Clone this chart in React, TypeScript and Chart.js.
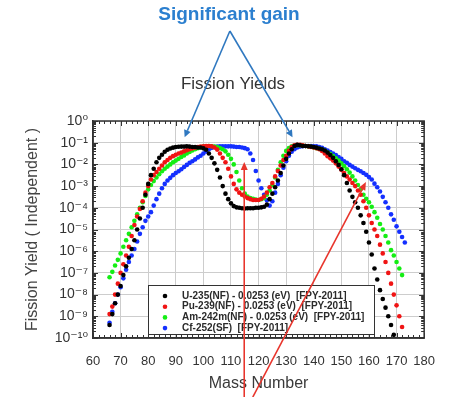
import React, { useEffect, useRef } from "react";
import { Chart, registerables } from "chart.js";

Chart.register(...registerables);

// Mass numbers (A) shared by all series, starting at A = 66
const massNumbers = [
  66, 67, 68, 69, 70, 71, 72, 73, 74, 75, 76, 77, 78, 79, 80, 81, 82, 83, 84, 85,
  86, 87, 88, 89, 90, 91, 92, 93, 94, 95, 96, 97, 98, 99, 100, 101, 102, 103, 104, 105,
  106, 107, 108, 109, 110, 111, 112, 113, 114, 115, 116, 117, 118, 119, 120, 121, 122, 123, 124, 125,
  126, 127, 128, 129, 130, 131, 132, 133, 134, 135, 136, 137, 138, 139, 140, 141, 142, 143, 144, 145,
  146, 147, 148, 149, 150, 151, 152, 153, 154, 155, 156, 157, 158, 159, 160, 161, 162, 163, 164, 165,
  166, 167, 168, 169, 170, 171, 172, 173,
];

// U-235 (A = 66..169)
const u235Yield = [
  4.0e-10, 1.26e-9, 4.0e-9, 1.0e-8, 2.5e-8, 7.9e-8, 2.0e-7, 5.0e-7, 1.26e-6, 3.2e-6,
  1.0e-5, 3.2e-5, 1.0e-4, 4.0e-4, 1.26e-3, 3.2e-3, 6.3e-3, 1.26e-2, 2.0e-2, 2.8e-2,
  3.8e-2, 4.7e-2, 5.4e-2, 5.9e-2, 6.3e-2, 6.5e-2, 6.6e-2, 6.6e-2, 6.8e-2, 6.6e-2,
  6.3e-2, 6.3e-2, 6.0e-2, 6.0e-2, 5.5e-2, 4.7e-2, 3.2e-2, 2.0e-2, 1.12e-2, 5.6e-3,
  2.5e-3, 1.0e-3, 4.5e-4, 2.5e-4, 1.6e-4, 1.2e-4, 1.05e-4, 1.0e-4, 9.5e-5, 9.3e-5,
  9.5e-5, 9.5e-5, 9.5e-5, 1.0e-4, 1.0e-4, 1.05e-4, 1.12e-4, 1.4e-4, 2.5e-4, 4.5e-4,
  8.9e-4, 1.8e-3, 4.0e-3, 8.9e-3, 1.8e-2, 3.2e-2, 5.0e-2, 7.1e-2, 7.9e-2, 7.6e-2,
  7.1e-2, 7.1e-2, 6.9e-2, 6.6e-2, 6.3e-2, 5.9e-2, 5.4e-2, 5.0e-2, 4.4e-2, 3.5e-2,
  2.7e-2, 2.0e-2, 1.4e-2, 9.5e-3, 6.0e-3, 3.2e-3, 1.4e-3, 6.3e-4, 3.2e-4, 1.8e-4,
  1.0e-4, 4.5e-5, 2.0e-5, 7.9e-6, 2.5e-6, 7.1e-7, 1.6e-7, 5.0e-8, 1.6e-8, 6.3e-9,
  2.5e-9, 1.0e-9, 4.0e-10, 1.4e-10,
];

// Pu-239 (A = 66..172)
const pu239Yield = [
  1.26e-9, 2.8e-9, 1.0e-8, 3.2e-8, 1.0e-7, 2.5e-7, 6.3e-7, 1.6e-6, 5.0e-6, 1.6e-5,
  4.0e-5, 8.9e-5, 2.0e-4, 5.0e-4, 1.0e-3, 2.0e-3, 3.2e-3, 4.5e-3, 6.3e-3, 8.9e-3,
  1.26e-2, 1.6e-2, 2.0e-2, 2.4e-2, 2.8e-2, 3.2e-2, 3.5e-2, 4.0e-2, 4.5e-2, 5.0e-2,
  5.5e-2, 5.9e-2, 6.3e-2, 6.6e-2, 6.9e-2, 7.1e-2, 7.1e-2, 6.8e-2, 6.0e-2, 4.8e-2,
  3.2e-2, 2.0e-2, 1.26e-2, 6.3e-3, 2.8e-3, 1.26e-3, 7.1e-4, 5.0e-4, 4.0e-4, 3.3e-4,
  2.8e-4, 2.5e-4, 2.3e-4, 2.3e-4, 2.3e-4, 2.6e-4, 3.3e-4, 5.0e-4, 8.9e-4, 1.4e-3,
  2.8e-3, 5.0e-3, 8.9e-3, 1.6e-2, 2.5e-2, 4.2e-2, 6.3e-2, 7.6e-2, 7.9e-2, 7.9e-2,
  7.6e-2, 7.1e-2, 6.8e-2, 6.3e-2, 6.0e-2, 5.6e-2, 5.0e-2, 4.2e-2, 3.2e-2, 2.4e-2,
  1.9e-2, 1.5e-2, 1.12e-2, 7.9e-3, 5.6e-3, 4.0e-3, 2.8e-3, 2.0e-3, 1.4e-3, 1.0e-3,
  6.3e-4, 4.0e-4, 2.0e-4, 1.0e-4, 4.5e-5, 2.0e-5, 1.0e-5, 5.0e-6, 2.0e-6, 7.9e-7,
  3.2e-7, 1.0e-7, 3.2e-8, 1.0e-8, 3.2e-9, 1.0e-9, 3.2e-10,
];

// Am-242m (A = 66..172)
const am242mYield = [
  6.3e-8, 1.12e-7, 2.2e-7, 4.0e-7, 7.9e-7, 1.6e-6, 3.2e-6, 6.3e-6, 1.26e-5, 2.5e-5,
  5.0e-5, 1.0e-4, 1.8e-4, 3.5e-4, 7.1e-4, 1.12e-3, 1.7e-3, 2.5e-3, 3.5e-3, 4.8e-3,
  6.3e-3, 7.9e-3, 1.0e-2, 1.26e-2, 1.5e-2, 1.8e-2, 2.2e-2, 2.6e-2, 3.2e-2, 3.7e-2,
  4.4e-2, 5.0e-2, 5.6e-2, 6.2e-2, 6.6e-2, 6.9e-2, 7.1e-2, 6.9e-2, 6.6e-2, 6.3e-2,
  5.6e-2, 5.0e-2, 4.0e-2, 2.8e-2, 1.8e-2, 1.0e-2, 4.5e-3, 1.8e-3, 7.9e-4, 4.5e-4,
  3.3e-4, 2.8e-4, 2.6e-4, 2.4e-4, 2.3e-4, 2.5e-4, 2.8e-4, 4.0e-4, 6.3e-4, 1.12e-3,
  2.5e-3, 5.6e-3, 1.26e-2, 2.5e-2, 4.2e-2, 5.6e-2, 6.8e-2, 7.4e-2, 7.6e-2, 7.6e-2,
  7.4e-2, 7.1e-2, 6.8e-2, 6.5e-2, 6.0e-2, 5.6e-2, 5.2e-2, 4.8e-2, 4.2e-2, 3.5e-2,
  3.0e-2, 2.4e-2, 1.9e-2, 1.5e-2, 1.12e-2, 8.3e-3, 6.0e-3, 4.2e-3, 2.8e-3, 1.8e-3,
  1.12e-3, 7.1e-4, 4.0e-4, 2.6e-4, 1.8e-4, 1.12e-4, 6.3e-5, 3.5e-5, 1.8e-5, 1.0e-5,
  5.0e-6, 2.5e-6, 1.12e-6, 6.3e-7, 3.2e-7, 1.6e-7, 7.9e-8,
];

// Cf-252 (A = 66..173)
const cf252Yield = [
  5.0e-10, 1.6e-9, 4.0e-9, 1.0e-8, 2.2e-8, 5.6e-8, 1.4e-7, 3.2e-7, 6.3e-7, 1.26e-6,
  2.8e-6, 6.3e-6, 1.26e-5, 2.5e-5, 4.0e-5, 6.3e-5, 1.26e-4, 2.5e-4, 4.5e-4, 7.9e-4,
  1.26e-3, 1.8e-3, 2.4e-3, 3.2e-3, 4.0e-3, 4.8e-3, 6.0e-3, 7.6e-3, 9.5e-3, 1.17e-2,
  1.4e-2, 1.7e-2, 2.1e-2, 2.5e-2, 3.2e-2, 4.0e-2, 5.0e-2, 5.8e-2, 6.3e-2, 6.6e-2,
  6.8e-2, 6.8e-2, 6.8e-2, 6.8e-2, 6.8e-2, 6.6e-2, 6.3e-2, 6.3e-2, 6.0e-2, 5.6e-2,
  5.0e-2, 3.2e-2, 1.6e-2, 5.0e-3, 1.8e-3, 7.9e-4, 4.0e-4, 2.2e-4, 1.26e-4, 2.0e-4,
  5.0e-4, 1.26e-3, 3.2e-3, 7.1e-3, 1.4e-2, 2.5e-2, 3.8e-2, 5.0e-2, 6.0e-2, 6.6e-2,
  6.9e-2, 7.1e-2, 7.1e-2, 7.1e-2, 6.9e-2, 6.8e-2, 6.3e-2, 5.8e-2, 5.0e-2, 4.4e-2,
  3.7e-2, 3.2e-2, 2.7e-2, 2.2e-2, 1.8e-2, 1.4e-2, 1.17e-2, 9.5e-3, 7.9e-3, 6.6e-3,
  5.6e-3, 4.8e-3, 4.0e-3, 3.3e-3, 2.6e-3, 2.0e-3, 1.3e-3, 8.9e-4, 5.6e-4, 3.2e-4,
  1.8e-4, 1.0e-4, 5.0e-5, 2.8e-5, 1.4e-5, 7.9e-6, 4.5e-6, 2.5e-6,
];

const seriesLabels = [
  "U-235(NF) - 0.0253 (eV)  [FPY-2011]",
  "Pu-239(NF) - 0.0253 (eV)  [FPY-2011]",
  "Am-242m(NF) - 0.0253 (eV)  [FPY-2011]",
  "Cf-252(SF)  [FPY-2011]",
];
const seriesColors = ["#000000", "#f01414", "#14ee14", "#1430ff"];

const xTickValues = [60, 70, 80, 90, 100, 110, 120, 130, 140, 150, 160, 170, 180];
const yTickValues = [1e-10, 1e-9, 1e-8, 1e-7, 1e-6, 1e-5, 1e-4, 1e-3, 1e-2, 1e-1, 1];
const yTickLabels = ["10⁻¹⁰", "10⁻⁹", "10⁻⁸", "10⁻⁷", "10⁻⁶", "10⁻⁵", "10⁻⁴", "10⁻³", "10⁻²", "10⁻¹", "10⁰"];

const chartTitle = "Fission Yields";
const headline = "Significant gain";
const xAxisTitle = "Mass Number";
const yAxisTitle = "Fission Yield ( Independent )";

// Annotation arrows, in data coordinates (A, yield)
const blueArrowApex = { x: 109.6, y: 1.4e4 };
const blueArrowTips = [
  { x: 93.2, y: 0.18 },
  { x: 132.3, y: 0.18 },
];
const redArrows = [
  { from: { x: 114.8, y: 1.9e-13 }, to: { x: 114.8, y: 1.3e-2 } },
  { from: { x: 117.9, y: 1.9e-13 }, to: { x: 158.9, y: 1.55e-3 } },
];

const FONT = "'Liberation Sans', Arial, 'DejaVu Sans', sans-serif";

function drawArrow(ctx: CanvasRenderingContext2D, x1: number, y1: number, x2: number, y2: number, color: string, width: number, headLen: number, headHalf: number) {
  const ang = Math.atan2(y2 - y1, x2 - x1);
  const bx = x2 - Math.cos(ang) * headLen;
  const by = y2 - Math.sin(ang) * headLen;
  ctx.strokeStyle = color;
  ctx.fillStyle = color;
  ctx.lineWidth = width;
  ctx.beginPath();
  ctx.moveTo(x1, y1);
  ctx.lineTo(bx, by);
  ctx.stroke();
  ctx.beginPath();
  ctx.moveTo(x2, y2);
  ctx.lineTo(bx + Math.sin(ang) * headHalf, by - Math.cos(ang) * headHalf);
  ctx.lineTo(bx - Math.sin(ang) * headHalf, by + Math.cos(ang) * headHalf);
  ctx.closePath();
  ctx.fill();
}

const decorPlugin = {
  id: "decor",
  afterDatasetsDraw(chart: any) {
    const { ctx, chartArea: ca, scales } = chart;
    const xs = scales.x;
    const ys = scales.y;
    ctx.save();
    // frame
    ctx.strokeStyle = "#333";
    ctx.lineWidth = 1.5;
    ctx.strokeRect(ca.left, ca.top, ca.right - ca.left, ca.bottom - ca.top);
    // inner ticks
    ctx.lineWidth = 1;
    ctx.beginPath();
    for (let v = 60; v <= 180; v += 2) {
      const px = Math.round(xs.getPixelForValue(v)) + 0.5;
      const len = v % 10 === 0 ? 5 : 3;
      ctx.moveTo(px, ca.bottom);
      ctx.lineTo(px, ca.bottom - len);
      ctx.moveTo(px, ca.top);
      ctx.lineTo(px, ca.top + len);
    }
    for (let d = -10; d <= 0; d++) {
      for (let m = 1; m <= 9; m++) {
        const v = m * Math.pow(10, d);
        if (v > 1.0001) break;
        const py = Math.round(ys.getPixelForValue(v)) + 0.5;
        const len = m === 1 ? 5 : 3;
        ctx.moveTo(ca.left, py);
        ctx.lineTo(ca.left + len, py);
        ctx.moveTo(ca.right, py);
        ctx.lineTo(ca.right - len, py);
      }
    }
    ctx.stroke();

    // legend box inside plot
    const lx = ca.left + 55;
    const ly = ca.top + 164;
    const lw = 226;
    const lh = 49;
    ctx.fillStyle = "#ffffff";
    ctx.fillRect(lx, ly, lw, lh);
    ctx.strokeStyle = "#333";
    ctx.lineWidth = 1;
    ctx.strokeRect(lx + 0.5, ly + 0.5, lw, lh);
    ctx.font = `bold 10px ${FONT}`;
    ctx.textBaseline = "middle";
    ctx.textAlign = "left";
    chart.data.datasets.forEach((ds: any, i: number) => {
      const ry = ly + 11 + i * 10.7;
      ctx.fillStyle = ds.backgroundColor;
      ctx.beginPath();
      ctx.arc(lx + 17, ry, 2.3, 0, Math.PI * 2);
      ctx.fill();
      ctx.fillStyle = "#2a2a2a";
      ctx.fillText(ds.label, lx + 34, ry);
    });
    ctx.restore();
  },
  afterDraw(chart: any) {
    const { ctx, chartArea: ca, scales } = chart;
    const xs = scales.x;
    const ys = scales.y;
    ctx.save();
    ctx.textAlign = "center";
    ctx.textBaseline = "middle";
    ctx.fillStyle = "#2b7fcf";
    ctx.font = `bold 19px ${FONT}`;
    ctx.fillText(headline, ca.left + 136, ca.top - 106);
    ctx.fillStyle = "#333";
    ctx.font = `17px ${FONT}`;
    ctx.fillText(chartTitle, ca.left + 140, ca.top - 37);

    const ax = xs.getPixelForValue(blueArrowApex.x);
    const ay = ys.getPixelForValue(blueArrowApex.y);
    blueArrowTips.forEach((t) => {
      drawArrow(ctx, ax, ay, xs.getPixelForValue(t.x), ys.getPixelForValue(t.y), "#2f78c0", 1.6, 7, 3.5);
    });
    redArrows.forEach((r) => {
      drawArrow(
        ctx,
        xs.getPixelForValue(r.from.x), ys.getPixelForValue(r.from.y),
        xs.getPixelForValue(r.to.x), ys.getPixelForValue(r.to.y),
        "#e8352c", 1.6, 8, 3.5
      );
    });
    ctx.restore();
  },
};

export default function App() {
  const canvasRef = useRef<HTMLCanvasElement | null>(null);

  useEffect(() => {
    document.body.style.margin = "0";
    const canvas = canvasRef.current;
    if (!canvas) return;
    Chart.defaults.font.family = FONT;
    const allSeries = [u235Yield, pu239Yield, am242mYield, cf252Yield];
    const chart = new Chart(canvas, {
      type: "scatter",
      data: {
        datasets: allSeries.map((vals, i) => ({
          label: seriesLabels[i],
          data: vals.map((y, j) => ({ x: massNumbers[j], y })),
          backgroundColor: seriesColors[i],
          borderColor: seriesColors[i],
          pointRadius: 2.3,
          pointBorderWidth: 0,
          pointHoverRadius: 2.3,
          showLine: false,
        })),
      },
      options: {
        responsive: false,
        animation: false,
        devicePixelRatio: 1,
        events: [],
        layout: { padding: { top: 121, right: 22, left: 0, bottom: 0 } },
        plugins: {
          legend: { display: false },
          title: { display: false },
          tooltip: { enabled: false },
        },
        scales: {
          x: {
            type: "linear",
            min: 60,
            max: 180,
            afterBuildTicks: (scale: any) => {
              scale.ticks = xTickValues.map((value) => ({ value }));
            },
            afterFit: (scale: any) => {
              scale.height = 59;
            },
            ticks: {
              autoSkip: false,
              maxRotation: 0,
              padding: 16,
              color: "#333",
              font: { size: 13 },
              callback: (v: any) => String(v),
            },
            grid: { color: "#cdcdcd", lineWidth: 1, drawTicks: false },
            border: { display: true, color: "#333", width: 1.5 },
            title: {
              display: true,
              text: xAxisTitle,
              color: "#3a3a3a",
              font: { size: 16 },
              padding: { top: 0, bottom: 4 },
            },
          },
          y: {
            type: "logarithmic",
            min: 1e-10,
            max: 1,
            afterBuildTicks: (scale: any) => {
              scale.ticks = yTickValues.map((value) => ({ value }));
            },
            afterFit: (scale: any) => {
              scale.width = 93;
            },
            ticks: {
              autoSkip: false,
              padding: 5,
              color: "#333",
              font: { size: 14 },
              callback: (_v: any, i: number) => yTickLabels[i],
            },
            grid: { color: "#cdcdcd", lineWidth: 1, drawTicks: false },
            border: { display: true, color: "#333", width: 1.5 },
            title: {
              display: true,
              text: yAxisTitle,
              color: "#444",
              font: { size: 16 },
              padding: { top: 23, bottom: 0 },
            },
          },
        },
      },
      plugins: [decorPlugin],
    } as any);
    return () => chart.destroy();
  }, []);

  return (
    <div style={{ width: 451, height: 397, background: "#fff" }}>
      <canvas ref={canvasRef} width={451} height={397} style={{ display: "block" }} />
    </div>
  );
}
